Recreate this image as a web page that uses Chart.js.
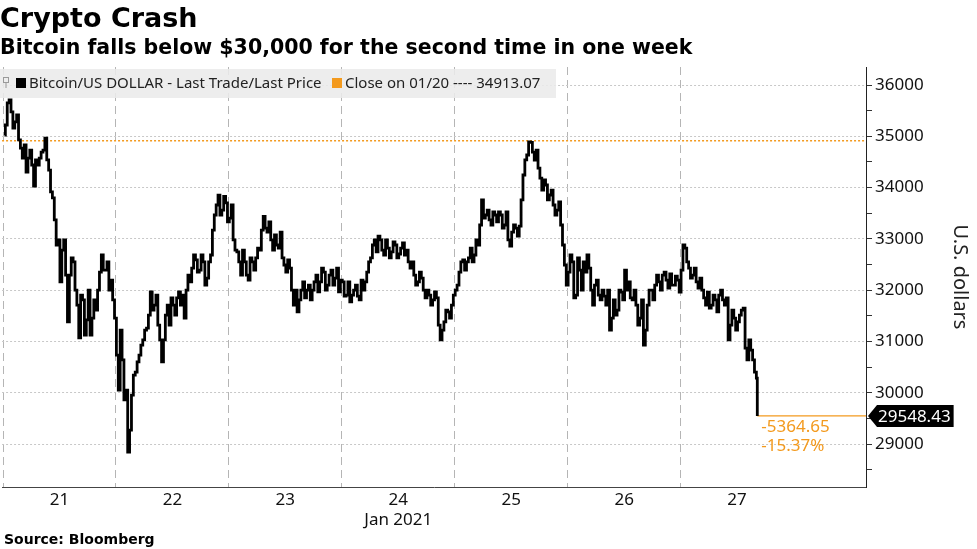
<!DOCTYPE html>
<html>
<head>
<meta charset="utf-8">
<script src="https://cdn.jsdelivr.net/npm/chart.js@4"></script>
<style>
  html, body { margin: 0; padding: 0; background: #fff; }
  #wrap { width: 977px; height: 549px; position: relative; }
</style>
</head>
<body>
<div id="wrap"><canvas id="chart"></canvas></div>
<script>
// x values are hours after 21 Jan 2021 00:00
const dayLabels = ['21', '22', '23', '24', '25', '26', '27'];
const monthLabel = 'Jan 2021';
const startHour = 0.3;
const stepHours = 0.8;

// Bitcoin/US DOLLAR, every 0.8 h
const prices = [
  35025, 35650, 35475, 35280, 34930, 34575, 34300, 34730, 34030, 34440,
  34690, 34965, 34340, 33800, 32880, 32160, 32980, 31380, 32630, 32000,
  31070, 31810, 31420, 31125, 31810, 32000, 32685, 32390, 32000, 31810,
  30735, 31220, 29860, 28844, 29955, 30400, 30735, 31030, 31260, 31965,
  31710, 31320, 30600, 31515, 31320, 31710, 31850, 31710, 31455, 32295,
  32430, 32590, 32390, 32550, 32235, 32685, 33465, 33850, 33560, 33700,
  33405, 32980, 32745, 32295, 32550, 32195, 32550, 32630, 32780, 33440,
  33130, 32980, 33075, 32820, 32630, 32350, 32430, 31710, 31575, 32000,
  31850, 32100, 32000, 32295, 32160, 32350, 32100, 32390, 32235, 31965,
  32160, 31905, 31770, 32000, 31885, 32195, 32160, 32550, 32880, 32745,
  32980, 32685, 32820, 32745, 32880, 32705, 32920, 32780, 32430, 32295,
  32160, 32235, 31850, 31905, 31810, 31850, 31030, 31380, 31575, 31710,
  32000, 32350, 32590, 32550, 32820, 32685, 32880, 33760, 33465, 33370,
  33525, 33330, 33465, 33270, 32980, 33130, 33210, 33250, 34245, 34635,
  34880, 34535, 34380, 33950, 34050, 33855, 33660, 33560, 33270, 32490,
  32350, 32550, 31905, 32390, 32550, 32685, 32000, 32100, 31905, 32000,
  31710, 31220, 31810, 31610, 31960, 32390, 32160, 31810, 31710, 31455,
  30930, 31710, 32000, 32100, 32160, 32295, 32195, 32315, 32100, 32195,
  32390, 32820, 32430, 32295, 32160, 32235, 31850, 31960, 31710, 31810,
  31905, 31810, 31850, 31320, 31455, 31380, 31610, 30870, 31030, 30640,
  30285
];
// readings half way between the ones above
const midPrices = [
  35220, 35710, 35160, 35415, 34770, 34830, 34575, 34440, 34540, 34575,
  34730, 34540, 33915, 33370, 32980, 32780, 32295, 32295, 32550, 31710,
  31905, 31125, 32000, 31455, 31610, 32350, 32390, 32550, 32195, 31455,
  30050, 30640, 30050, 29270, 30345, 30600, 30930, 31220, 31515, 31610,
  31905, 31030, 31030, 31710, 31850, 31515, 31965, 31905, 32000, 32160,
  32685, 32350, 32685, 32100, 32550, 33170, 33660, 33465, 33830, 33330,
  33660, 32780, 32550, 32780, 32295, 32630, 32390, 32820, 33170, 33210,
  33330, 32780, 32880, 33130, 32490, 32590, 32000, 32000, 31810, 32160,
  32000, 31810, 32160, 31965, 32430, 32000, 32295, 32100, 32430, 32195,
  31885, 32160, 31905, 32100, 31810, 32000, 32350, 32630, 32980, 33055,
  32780, 32980, 32630, 32940, 32630, 32820, 32685, 32550, 32550, 32100,
  32350, 32000, 32000, 31710, 31965, 31320, 31220, 31610, 31455, 31905,
  32100, 32550, 32390, 32630, 32550, 32980, 33270, 33405, 33560, 33270,
  33465, 33525, 33210, 33525, 32860, 33270, 33055, 33760, 34540, 34890,
  34690, 34730, 34185, 34150, 33760, 33950, 33465, 33720, 32880, 32100,
  32685, 31850, 32630, 32000, 32350, 32430, 31710, 32195, 31810, 31885,
  32000, 31455, 31515, 32000, 31810, 32000, 31850, 32000, 31320, 31810,
  31220, 32000, 31810, 32295, 32000, 32350, 32040, 32100, 32275, 31960,
  32880, 32550, 32235, 32430, 32040, 32000, 31710, 31650, 31905, 31575,
  32000, 31710, 31030, 31610, 31220, 31515, 31650, 30640, 30830, 30400
];
const lastPrice = 29548.43;
const closePrice = 34913.07;
const changeLabels = ['-5364.65', '-15.37%'];
const yTicks = [28500, 29000, 29500, 30000, 30500, 31000, 31500, 32000, 32500,
  33000, 33500, 34000, 34500, 35000, 35500, 36000];
const xTicks = [0, 12, 24, 36, 48, 60, 72, 84, 96, 108, 120, 132, 144, 156];

const xMin = -0.2;
const xMax = 183.4;
const orange = '#f39a1e';
const tickFont = { family: '"Noto Sans", sans-serif', size: 17 };

const pricePoints = [];
prices.forEach((p, i) => {
  const t = startHour + i * stepHours;
  pricePoints.push({ x: t, y: p });
  if (i < midPrices.length) pricePoints.push({ x: t + stepHours / 2, y: midPrices[i] });
});
const lastHour = startHour + (prices.length - 1) * stepHours;
pricePoints.push({ x: lastHour, y: lastPrice });

const extras = {
  id: 'extras',
  afterDraw(chart) {
    const { ctx, scales: { x, y } } = chart;
    ctx.save();

    // legend strip
    ctx.fillStyle = 'rgba(234,234,234,0.88)';
    ctx.fillRect(0, 69, 556, 29);
    ctx.strokeStyle = '#999';
    ctx.lineWidth = 1;
    ctx.strokeRect(3.5, 77.5, 5, 5);
    ctx.beginPath(); ctx.moveTo(6, 83); ctx.lineTo(6, 88); ctx.stroke();
    ctx.font = '15px "Noto Sans", sans-serif';
    ctx.textBaseline = 'middle';
    ctx.fillStyle = '#000';
    ctx.fillRect(16, 78, 10, 10);
    ctx.fillStyle = '#222';
    ctx.fillText(chart.data.datasets[0].label, 29, 84);
    ctx.fillStyle = orange;
    ctx.fillRect(332, 78, 10, 10);
    ctx.fillStyle = '#222';
    ctx.fillText(chart.data.datasets[1].label, 345, 84);

    // last value tag on the axis
    const yy = y.getPixelForValue(lastPrice);
    ctx.font = '17px "Noto Sans", sans-serif';
    const txt = lastPrice.toFixed(2);
    const tw = ctx.measureText(txt).width;
    const left = x.right + 2;
    ctx.fillStyle = '#000';
    ctx.beginPath();
    ctx.moveTo(left, yy);
    ctx.lineTo(left + 9, yy - 11);
    ctx.lineTo(left + 13 + tw, yy - 11);
    ctx.lineTo(left + 13 + tw, yy + 11);
    ctx.lineTo(left + 9, yy + 11);
    ctx.closePath();
    ctx.fill();
    ctx.fillStyle = '#fff';
    ctx.fillText(txt, left + 10, yy + 1);

    // change since close
    const lx = x.getPixelForValue(lastHour) + 4;
    ctx.fillStyle = orange;
    ctx.fillText(changeLabels[0], lx, yy + 11);
    ctx.fillText(changeLabels[1], lx, yy + 30);

    // source
    ctx.font = 'bold 14px "DejaVu Sans", sans-serif';
    ctx.fillStyle = '#000';
    ctx.fillText('Source: Bloomberg', 4, 540);
    ctx.restore();
  }
};

new Chart(document.getElementById('chart'), {
  type: 'line',
  data: {
    datasets: [
      {
        label: 'Bitcoin/US DOLLAR - Last Trade/Last Price',
        data: pricePoints,
        borderColor: '#000',
        borderWidth: 2.8,
        stepped: 'middle',
        pointRadius: 0,
        order: 0
      },
      {
        label: 'Close on 01/20 ---- ' + closePrice.toFixed(2),
        data: [{ x: xMin, y: closePrice }, { x: xMax, y: closePrice }],
        borderColor: orange,
        borderWidth: 1.5,
        borderDash: [2, 2],
        pointRadius: 0,
        order: 1
      },
      {
        label: 'last',
        data: [{ x: lastHour, y: lastPrice }, { x: xMax, y: lastPrice }],
        borderColor: orange,
        borderWidth: 1.2,
        pointRadius: 0,
        order: 1
      }
    ]
  },
  options: {
    responsive: true,
    maintainAspectRatio: false,
    animation: false,
    layout: { padding: { left: 0, right: 0, top: 0, bottom: 20 } },
    plugins: {
      legend: { display: false },
      tooltip: { enabled: false },
      title: {
        display: true,
        align: 'start',
        text: 'Crypto Crash',
        color: '#000',
        font: { family: '"DejaVu Sans", sans-serif', weight: 'bold', size: 27, lineHeight: 1.2 },
        padding: { top: 4, bottom: 0 }
      },
      subtitle: {
        display: true,
        align: 'start',
        text: 'Bitcoin falls below $30,000 for the second time in one week',
        color: '#000',
        font: { family: '"DejaVu Sans", sans-serif', weight: 'bold', size: 20.5, lineHeight: 1.2 },
        padding: { top: 0, bottom: 6 }
      }
    },
    scales: {
      x: {
        type: 'linear',
        min: xMin,
        max: xMax,
        afterBuildTicks: (scale) => { scale.ticks = xTicks.map(v => ({ value: v })); },
        afterFit: (scale) => { scale.height = 42; },
        grid: {
          color: (c) => (c.tick && c.tick.value % 24 === 0 ? '#b5b5b5' : 'transparent'),
          drawTicks: false,
          lineWidth: 1
        },
        border: { display: true, color: '#444', width: 1, dash: [8, 5] },
        ticks: {
          autoSkip: false,
          maxRotation: 0,
          padding: 3,
          color: '#111',
          font: tickFont,
          callback: (v) => {
            if (v % 24 !== 12) return '';
            const d = dayLabels[(v - 12) / 24];
            return d === '24' ? [d, monthLabel] : d;
          }
        }
      },
      y: {
        position: 'right',
        min: 28162,
        max: 36351,
        afterBuildTicks: (scale) => { scale.ticks = yTicks.map(v => ({ value: v })); },
        afterFit: (scale) => { scale.width = 111; },
        grid: {
          color: (c) => (c.tick && c.tick.value % 1000 === 0 ? '#c8c8c8' : 'transparent'),
          tickColor: '#333',
          tickLength: 6,
          lineWidth: 1
        },
        border: { display: true, color: '#222', width: 1, dash: [2, 2] },
        ticks: {
          padding: 3,
          color: '#111',
          font: tickFont,
          callback: (v) => (v % 1000 === 0 ? String(v) : '')
        },
        title: {
          display: true,
          text: 'U.S. dollars',
          color: '#222',
          font: { family: '"Noto Sans", sans-serif', size: 20 },
          padding: { top: 5, bottom: 0 }
        }
      }
    }
  },
  plugins: [extras]
});
</script>
</body>
</html>
